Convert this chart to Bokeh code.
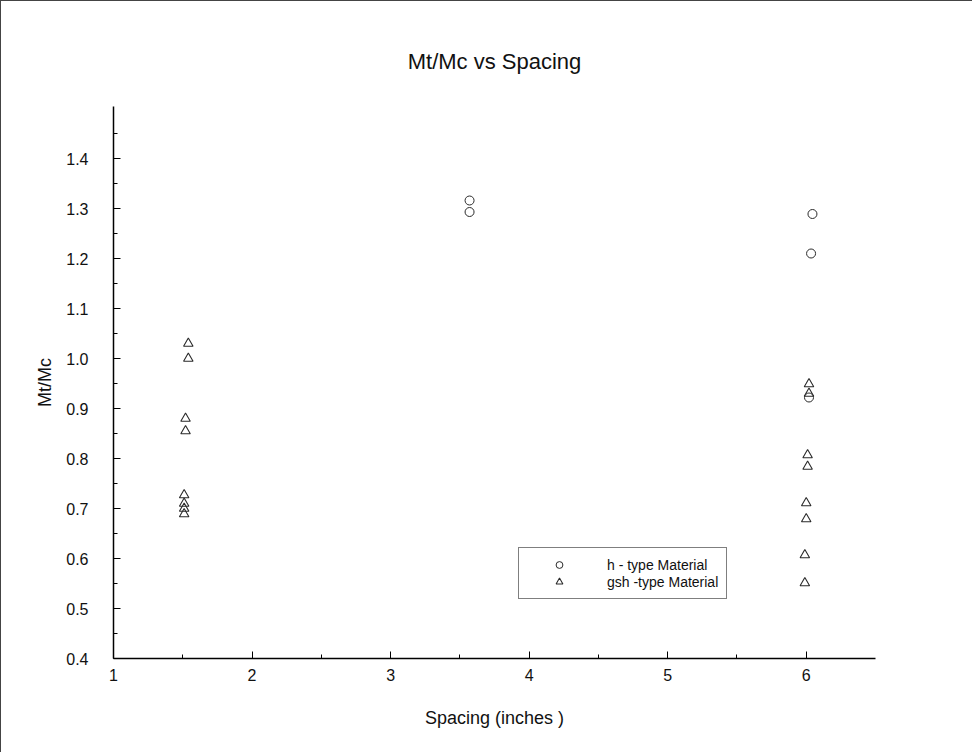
from bokeh.plotting import figure
from bokeh.models import Range1d, Legend, LegendItem, NumeralTickFormatter, FixedTicker
from bokeh.embed import file_html
from bokeh.resources import INLINE

# h - type Material (circles)
h_x = [3.57, 3.57, 6.045, 6.035, 6.02]
h_y = [1.316, 1.293, 1.289, 1.21, 0.922]

# gsh -type Material (triangles)
g_x = [1.54, 1.54, 1.52, 1.52, 1.51, 1.51, 1.51, 1.51,
       6.02, 6.02, 6.01, 6.01, 6.0, 6.0, 5.99, 5.99]
g_y = [1.03, 1.00, 0.88, 0.855, 0.727, 0.71, 0.70, 0.689,
       0.949, 0.93, 0.807, 0.784, 0.711, 0.679, 0.607, 0.551]

x_ticks = [1, 2, 3, 4, 5, 6]
y_ticks = [0.4, 0.5, 0.6, 0.7, 0.8, 0.9, 1.0, 1.1, 1.2, 1.3, 1.4]

FONT = "Liberation Sans"
INK = "#2a2a2a"

p = figure(width=972, height=752, output_backend="svg", toolbar_location=None,
           x_range=Range1d(1, 6.5), y_range=Range1d(0.4, 1.504),
           frame_width=762, frame_height=552,
           min_border_left=112, min_border_right=98,
           min_border_top=105, min_border_bottom=95,
           title="Mt/Mc vs Spacing")
p.styles = {"border": "1px solid #444"}

p.title.align = "center"
p.title.text_font = FONT
p.title.text_font_size = "22px"
p.title.text_font_style = "normal"
p.title.text_color = "#111"
p.title.standoff = 65

p.outline_line_color = None
p.xgrid.grid_line_color = None
p.ygrid.grid_line_color = None
p.background_fill_color = "white"
p.border_fill_color = "white"

for ax in (p.xaxis[0], p.yaxis[0]):
    ax.axis_line_color = "black"
    ax.axis_line_width = 1.5
    ax.major_tick_in = 7
    ax.major_tick_out = 0
    ax.minor_tick_in = 4
    ax.minor_tick_out = 0
    ax.major_tick_line_color = "black"
    ax.minor_tick_line_color = "black"
    ax.major_label_text_font = FONT
    ax.major_label_text_font_size = "16px"
    ax.major_label_text_color = "#111"
    ax.axis_label_text_font = FONT
    ax.axis_label_text_font_size = "18px"
    ax.axis_label_text_font_style = "normal"
    ax.axis_label_text_color = "#111"

p.xaxis.ticker = FixedTicker(ticks=x_ticks, minor_ticks=[1.5, 2.5, 3.5, 4.5, 5.5])
p.yaxis.ticker = FixedTicker(ticks=y_ticks,
                             minor_ticks=[0.45, 0.55, 0.65, 0.75, 0.85, 0.95, 1.05, 1.15, 1.25, 1.35, 1.45])
p.yaxis.formatter = NumeralTickFormatter(format="0.0")
p.xaxis.major_label_standoff = 10
p.yaxis.major_label_standoff = 25
p.xaxis.axis_label = "Spacing (inches )"
p.yaxis.axis_label = "Mt/Mc"
p.xaxis.axis_label_standoff = 24
p.yaxis.axis_label_standoff = 8

r_h = p.scatter(h_x, h_y, marker="circle", size=9, fill_color=None,
                line_color=INK, line_width=1)
r_g = p.scatter(g_x, g_y, marker="triangle", size=9.5, fill_color=None,
                line_color=INK, line_width=1.1)

legend = Legend(items=[LegendItem(label="h - type Material", renderers=[r_h]),
                       LegendItem(label="gsh -type Material", renderers=[r_g])],
                location=(405, 59))
legend.padding = 8
legend.margin = 0
legend.spacing = 0
legend.glyph_width = 64
legend.glyph_height = 17
legend.label_height = 17
legend.label_standoff = 16
legend.label_text_font = FONT
legend.label_text_font_size = "14px"
legend.label_text_color = "#111"
legend.border_line_color = "black"
legend.border_line_width = 1.5
legend.background_fill_alpha = 1
p.add_layout(legend, "center")

open("out.html", "w").write(file_html(p, INLINE))
